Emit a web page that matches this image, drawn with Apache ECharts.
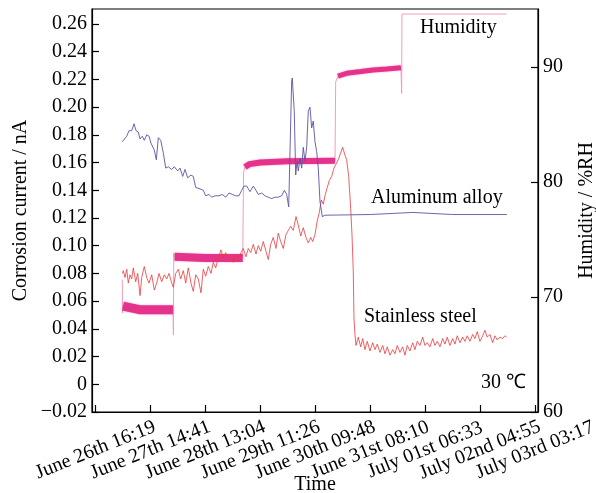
<!DOCTYPE html>
<html>
<head>
<meta charset="utf-8">
<script src="https://cdn.jsdelivr.net/npm/echarts@6/dist/echarts.min.js"></script>
<style>
  body { margin: 0; background: #fff; }
  #chart { width: 596px; height: 493px; }
</style>
</head>
<body>
<div id="chart"></div>
<script>
// x values are in tick steps (one step = 22h22m) from June 26th 16:19
const timeLabels = [
  'June 26th 16:19', 'June 27th 14:41', 'June 28th 13:04', 'June 29th 11:26',
  'June 30th 09:48', 'June 31st 08:10', 'July 01st 06:33', 'July 02nd 04:55',
  'July 03rd 03:17',
];
const timeTicks = [0, 1, 2, 3, 4, 5, 6, 7, 8];

// humidity, %RH (right axis)
const humidity = [
  [0.488, 71.5], [0.492, 68.6], [0.5, 69.2], [0.8, 68.9], [1.1, 68.9], [1.41, 68.9],
  [1.418, 66.7], [1.424, 73.8], [1.44, 73.5], [2.0, 73.4], [2.68, 73.4],
  [2.69, 73.4], [2.695, 80.8], [2.72, 81.3], [2.8, 81.55], [3.0, 81.7], [3.5, 81.8], [4.36, 81.85],
  [4.372, 88.7], [4.414, 89.2], [4.572, 89.45], [4.833, 89.6], [5.051, 89.74], [5.3, 89.83], [5.56, 89.94],
  [5.573, 87.7], [5.578, 94.6], [7.484, 94.6],
];
// time spans where the humidity signal is noisy (drawn as a thick band)
const humidityNoisySpans = [[0.5, 1.41], [1.44, 2.68], [2.72, 4.36], [4.414, 5.56]];

// corrosion current, nA
const aluminum = [
  [0.488, 0.175], [0.568, 0.179], [0.61, 0.183], [0.659, 0.183], [0.701, 0.188], [0.737, 0.183],
  [0.779, 0.182], [0.81, 0.177], [0.852, 0.179], [0.888, 0.176], [0.932, 0.18], [0.974, 0.179],
  [1.01, 0.174], [1.07, 0.169], [1.107, 0.162], [1.143, 0.178], [1.187, 0.176], [1.234, 0.167],
  [1.278, 0.156], [1.325, 0.157], [1.387, 0.155], [1.434, 0.157], [1.496, 0.154], [1.538, 0.156],
  [1.587, 0.15], [1.629, 0.155], [1.678, 0.149], [1.738, 0.151], [1.78, 0.15], [1.824, 0.142],
  [1.902, 0.141], [1.962, 0.14], [2.006, 0.136], [2.066, 0.137], [2.115, 0.135], [2.175, 0.136],
  [2.248, 0.136], [2.308, 0.137], [2.37, 0.135], [2.43, 0.138], [2.49, 0.137], [2.552, 0.136],
  [2.612, 0.136], [2.661, 0.14], [2.703, 0.143], [2.752, 0.143], [2.812, 0.139], [2.872, 0.143],
  [2.921, 0.14], [2.963, 0.137], [3.025, 0.138], [3.085, 0.136], [3.145, 0.135], [3.207, 0.134],
  [3.267, 0.135], [3.327, 0.135], [3.389, 0.136], [3.437, 0.14], [3.48, 0.137], [3.517, 0.128],
  [3.571, 0.219], [3.582, 0.221], [3.618, 0.197], [3.644, 0.151], [3.668, 0.161], [3.691, 0.154],
  [3.722, 0.163], [3.753, 0.156], [3.782, 0.171], [3.813, 0.161], [3.844, 0.171], [3.873, 0.197],
  [3.904, 0.2], [3.935, 0.185], [3.964, 0.19], [3.995, 0.175], [4.026, 0.168], [4.055, 0.156],
  [4.086, 0.132], [4.128, 0.121], [4.177, 0.122], [5.0, 0.1225], [5.779, 0.124], [6.5, 0.1225],
  [7.49, 0.1225],
];

const stainless = [
  [0.49, 0.08], [0.506, 0.082], [0.537, 0.077], [0.568, 0.083], [0.597, 0.073], [0.628, 0.079],
  [0.659, 0.076], [0.688, 0.084], [0.732, 0.074], [0.768, 0.08], [0.81, 0.064], [0.841, 0.077],
  [0.888, 0.085], [0.932, 0.077], [0.974, 0.073], [1.023, 0.079], [1.07, 0.068], [1.114, 0.073],
  [1.156, 0.08], [1.205, 0.074], [1.252, 0.079], [1.296, 0.076], [1.338, 0.08], [1.387, 0.073],
  [1.416, 0.07], [1.46, 0.08], [1.507, 0.083], [1.551, 0.076], [1.598, 0.082], [1.642, 0.073],
  [1.689, 0.084], [1.738, 0.073], [1.78, 0.067], [1.824, 0.079], [1.871, 0.076], [1.92, 0.066],
  [1.962, 0.083], [2.006, 0.078], [2.053, 0.085], [2.102, 0.08], [2.144, 0.088], [2.188, 0.084],
  [2.235, 0.091], [2.284, 0.097], [2.326, 0.091], [2.37, 0.095], [2.417, 0.089], [2.466, 0.092],
  [2.508, 0.088], [2.552, 0.094], [2.599, 0.089], [2.648, 0.095], [2.69, 0.098], [2.739, 0.092],
  [2.781, 0.098], [2.825, 0.095], [2.872, 0.101], [2.921, 0.094], [2.963, 0.1], [3.007, 0.096],
  [3.054, 0.103], [3.103, 0.096], [3.145, 0.09], [3.189, 0.101], [3.236, 0.106], [3.285, 0.098],
  [3.327, 0.109], [3.371, 0.103], [3.418, 0.098], [3.467, 0.108], [3.509, 0.111], [3.553, 0.114],
  [3.6, 0.111], [3.65, 0.121], [3.691, 0.115], [3.735, 0.107], [3.782, 0.113], [3.831, 0.106],
  [3.873, 0.102], [3.917, 0.106], [3.953, 0.103], [3.995, 0.108], [4.037, 0.118], [4.074, 0.124],
  [4.11, 0.133], [4.146, 0.13], [4.183, 0.137], [4.219, 0.142], [4.256, 0.147], [4.299, 0.15],
  [4.341, 0.156], [4.377, 0.157], [4.419, 0.162], [4.463, 0.167], [4.499, 0.171], [4.536, 0.166],
  [4.572, 0.162], [4.609, 0.15], [4.645, 0.127], [4.669, 0.108], [4.692, 0.082], [4.705, 0.048],
  [4.723, 0.036], [4.742, 0.028], [4.783, 0.034], [4.827, 0.027], [4.864, 0.033], [4.905, 0.025],
  [4.947, 0.031], [4.996, 0.024], [5.046, 0.03], [5.087, 0.025], [5.129, 0.029], [5.178, 0.023],
  [5.228, 0.028], [5.269, 0.022], [5.311, 0.027], [5.36, 0.021], [5.41, 0.025], [5.451, 0.022],
  [5.493, 0.028], [5.542, 0.023], [5.592, 0.027], [5.633, 0.021], [5.675, 0.028], [5.724, 0.024],
  [5.774, 0.03], [5.815, 0.025], [5.857, 0.031], [5.906, 0.028], [5.956, 0.034], [5.997, 0.028],
  [6.039, 0.03], [6.088, 0.027], [6.138, 0.033], [6.179, 0.028], [6.221, 0.031], [6.27, 0.027],
  [6.32, 0.033], [6.361, 0.029], [6.403, 0.034], [6.452, 0.028], [6.502, 0.033], [6.543, 0.029],
  [6.585, 0.035], [6.634, 0.03], [6.684, 0.034], [6.725, 0.031], [6.767, 0.035], [6.816, 0.031],
  [6.866, 0.036], [6.907, 0.033], [6.949, 0.038], [6.998, 0.031], [7.048, 0.035], [7.089, 0.039],
  [7.131, 0.034], [7.18, 0.036], [7.23, 0.03], [7.271, 0.035], [7.313, 0.032], [7.362, 0.034],
  [7.412, 0.033], [7.453, 0.035], [7.484, 0.034],
];

const FONT = '"Liberation Serif", "Times New Roman", serif';
const bandWidths = [9, 8, 6, 5];

const currentLabel = (v) => {
  if (Math.abs(v) < 1e-9) return '0';
  return (v < 0 ? '\u2212' : '') + Math.abs(v).toFixed(2);
};

const axisCommon = {
  axisLine: { show: true, onZero: false, lineStyle: { color: '#000', width: 1.2 } },
  axisTick: { show: true, inside: true, length: 7, lineStyle: { color: '#000', width: 1.2 } },
  splitLine: { show: false },
  nameMoveOverlap: false,
  nameTextStyle: { color: '#000', fontSize: 20, fontFamily: FONT },
};

const bandSeries = humidityNoisySpans.map(([from, to], i) => ({
  type: 'line',
  yAxisIndex: 1,
  showSymbol: false,
  silent: true,
  data: humidity.filter((p) => p[0] >= from && p[0] <= to),
  lineStyle: {
    color: '#e5338b',
    width: bandWidths[i],
    shadowColor: 'rgba(229,51,139,0.5)',
    shadowBlur: 2,
  },
  z: 3,
}));

const chart = echarts.init(document.getElementById('chart'));
chart.setOption({
  animation: false,
  backgroundColor: '#fff',
  grid: {
    left: 92, right: 58, top: 9, bottom: 81,
    outerBoundsMode: 'none',
    containLabel: false,
    show: true, borderColor: '#000', borderWidth: 1.2,
  },
  xAxis: {
    ...axisCommon,
    type: 'value',
    min: -0.064,
    max: 8.055,
    name: 'Time',
    nameLocation: 'middle',
    nameGap: 63,
    axisTick: { ...axisCommon.axisTick, customValues: timeTicks },
    axisLabel: {
      customValues: timeTicks,
      formatter: (v) => timeLabels[Math.round(v)],
      showMinLabel: true,
      showMaxLabel: true,
      hideOverlap: false,
      rotate: 22,
      align: 'center',
      margin: 38,
      color: '#000',
      fontSize: 20,
      fontFamily: FONT,
    },
  },
  yAxis: [
    {
      ...axisCommon,
      type: 'value',
      min: -0.02,
      max: 0.2708,
      interval: 0.02,
      name: 'Corrosion current / nA',
      nameLocation: 'middle',
      nameRotate: 90,
      nameGap: 61,
      axisLabel: {
        formatter: currentLabel,
        showMaxLabel: false,
        margin: 5,
        color: '#000',
        fontSize: 20,
        fontFamily: FONT,
      },
    },
    {
      ...axisCommon,
      type: 'value',
      position: 'right',
      min: 60,
      max: 95.04,
      interval: 10,
      name: 'Humidity / %RH',
      nameLocation: 'middle',
      nameRotate: 90,
      nameGap: 39,
      axisLabel: {
        showMaxLabel: false,
        margin: 5,
        color: '#000',
        fontSize: 20,
        fontFamily: FONT,
      },
    },
  ],
  series: [
    {
      name: 'Humidity',
      type: 'line',
      yAxisIndex: 1,
      showSymbol: false,
      data: humidity,
      lineStyle: { color: '#f39bc5', width: 1 },
      z: 2,
    },
    ...bandSeries,
    {
      name: 'Stainless steel',
      type: 'line',
      showSymbol: false,
      data: stainless,
      lineStyle: { color: '#e8383c', width: 0.8 },
      z: 4,
    },
    {
      name: 'Aluminum alloy',
      type: 'line',
      showSymbol: false,
      data: aluminum,
      lineStyle: { color: '#5e52a3', width: 0.9 },
      z: 5,
    },
  ],
  graphic: [
    { type: 'text', x: 420, y: 28, style: { text: 'Humidity', font: '20px ' + FONT, fill: '#000', verticalAlign: 'middle' } },
    { type: 'text', x: 371, y: 198, style: { text: 'Aluminum alloy', font: '20px ' + FONT, fill: '#000', verticalAlign: 'middle' } },
    { type: 'text', x: 364, y: 317, style: { text: 'Stainless steel', font: '20px ' + FONT, fill: '#000', verticalAlign: 'middle' } },
    { type: 'text', x: 481, y: 383, style: { text: '30 \u2103', font: '20px ' + FONT, fill: '#000', verticalAlign: 'middle' } },
  ],
});
</script>
</body>
</html>
